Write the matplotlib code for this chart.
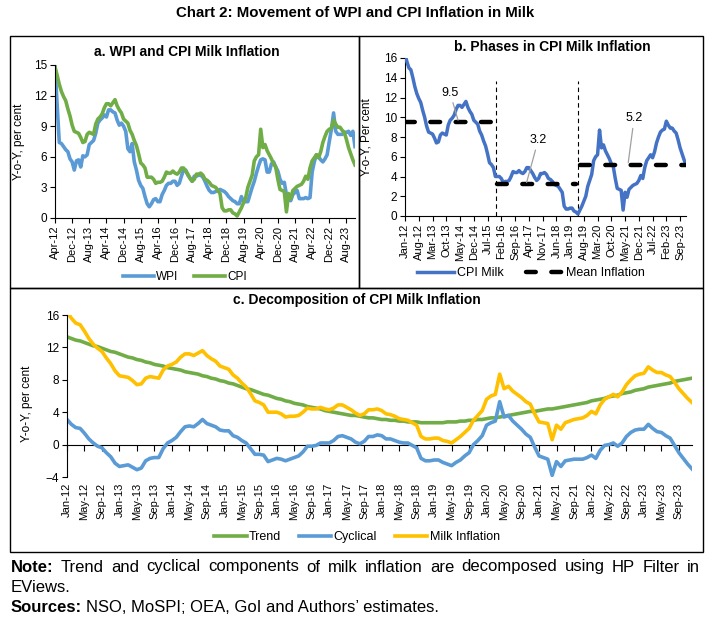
import numpy as np
import pandas as pd
import matplotlib
matplotlib.use('Agg')
import matplotlib.pyplot as plt
from matplotlib.patches import Rectangle

plt.rcParams['font.family'] = ['Liberation Sans', 'DejaVu Sans']

# monthly axis Jan-12 .. Dec-23
months = pd.date_range('2012-01-01', periods=144, freq='MS')
month_labels = [d.strftime('%b-%y') for d in months]

# CPI milk inflation (y-o-y, %), Jan-12 .. Dec-23
cpi_milk = [16.4, 15.6, 15.0, 14.8, 14.0, 13.1, 12.4, 11.9, 11.5, 10.7, 10.0, 9.1,
            8.5, 8.4, 8.3, 7.9, 7.4, 7.5, 8.2, 8.4, 8.3, 8.2, 9.2, 9.7,
            9.9, 10.2, 10.8, 11.2, 11.2, 11.0, 11.3, 11.6, 11.0, 10.6, 10.3, 9.7,
            9.5, 9.3, 8.6, 8.2, 7.6, 7.1, 6.3, 5.4, 5.2, 4.9, 4.0, 4.0,
            4.0, 3.8, 3.4, 3.5, 3.5, 3.6, 4.0, 4.5, 4.4, 4.4, 4.6, 4.4,
            4.3, 4.5, 4.9, 4.9, 4.6, 4.3, 3.9, 3.6, 3.8, 4.3, 4.3, 4.4,
            4.2, 3.8, 3.7, 3.5, 3.2, 3.1, 3.0, 2.7, 2.4, 1.0, 0.7, 0.7,
            0.8, 0.8, 0.5, 0.4, 0.2, 0.6, 1.0, 1.5, 2.0, 3.0, 3.6, 4.2,
            5.6, 6.0, 6.2, 8.7, 6.9, 7.2, 6.6, 6.2, 5.8, 5.3, 5.0, 3.8,
            2.8, 2.7, 2.6, 0.6, 2.4, 1.9, 2.7, 2.9, 3.1, 3.2, 3.3, 3.6,
            4.1, 3.8, 4.9, 5.6, 5.9, 6.2, 5.9, 6.5, 7.4, 8.0, 8.5, 8.7,
            8.8, 9.6, 9.2, 8.9, 8.9, 8.6, 8.4, 7.7, 6.9, 6.3, 5.7, 5.2]

# HP filter trend, Jan-12 .. Dec-23
trend = [13.3, 13.1, 12.9, 12.8, 12.6, 12.4, 12.2, 12.1, 11.9, 11.7, 11.5, 11.4,
         11.2, 11.0, 10.8, 10.7, 10.5, 10.4, 10.2, 10.1, 9.9, 9.8, 9.7, 9.5,
         9.4, 9.3, 9.2, 9.0, 8.9, 8.8, 8.7, 8.5, 8.4, 8.2, 8.1, 7.9,
         7.8, 7.6, 7.5, 7.3, 7.1, 6.9, 6.8, 6.6, 6.4, 6.2, 6.1, 5.9,
         5.7, 5.6, 5.4, 5.3, 5.1, 5.0, 4.9, 4.7, 4.6, 4.5, 4.4, 4.2,
         4.1, 4.0, 3.9, 3.8, 3.7, 3.6, 3.6, 3.5, 3.4, 3.3, 3.3, 3.2,
         3.1, 3.1, 3.0, 3.0, 2.9, 2.9, 2.8, 2.8, 2.8, 2.7, 2.7, 2.7,
         2.7, 2.7, 2.7, 2.8, 2.8, 2.8, 2.9, 2.9, 3.0, 3.0, 3.1, 3.1,
         3.2, 3.3, 3.3, 3.4, 3.5, 3.6, 3.7, 3.8, 3.9, 4.0, 4.1, 4.1,
         4.2, 4.3, 4.4, 4.4, 4.5, 4.6, 4.7, 4.8, 4.9, 5.0, 5.1, 5.2,
         5.4, 5.5, 5.6, 5.7, 5.9, 6.0, 6.1, 6.3, 6.4, 6.5, 6.7, 6.8,
         6.9, 7.1, 7.2, 7.3, 7.4, 7.5, 7.6, 7.8, 7.9, 8.0, 8.1, 8.2]

# cyclical component, Jan-12 .. Dec-23
cyclical = [3.1, 2.5, 2.1, 2.0, 1.4, 0.7, 0.2, -0.2, -0.4, -1.0, -1.5, -2.3,
            -2.7, -2.6, -2.5, -2.8, -3.1, -2.9, -2.0, -1.7, -1.6, -1.6, -0.5, 0.2,
            0.5, 0.9, 1.6, 2.2, 2.3, 2.2, 2.6, 3.1, 2.6, 2.4, 2.2, 1.8,
            1.7, 1.7, 1.1, 0.9, 0.5, 0.2, -0.5, -1.2, -1.2, -1.3, -2.1, -1.9,
            -1.7, -1.8, -2.0, -1.8, -1.6, -1.4, -0.9, -0.2, -0.2, -0.1, 0.2, 0.2,
            0.2, 0.5, 1.0, 1.1, 0.9, 0.7, 0.3, 0.1, 0.4, 1.0, 1.0, 1.2,
            1.1, 0.7, 0.7, 0.5, 0.3, 0.2, 0.2, -0.1, -0.4, -1.7, -2.0, -2.0,
            -1.9, -1.9, -2.2, -2.4, -2.6, -2.2, -1.9, -1.4, -1.0, 0.0, 0.5, 1.1,
            2.4, 2.7, 2.9, 5.3, 3.4, 3.6, 2.9, 2.4, 1.9, 1.3, 0.9, -0.3,
            -1.4, -1.6, -1.8, -3.8, -2.1, -2.7, -2.0, -1.9, -1.8, -1.8, -1.8, -1.6,
            -1.3, -1.7, -0.7, -0.1, 0.0, 0.2, -0.2, 0.2, 1.0, 1.5, 1.8, 1.9,
            1.9, 2.5, 2.0, 1.6, 1.5, 1.1, 0.8, -0.1, -1.0, -1.7, -2.4, -3.0]

# WPI milk inflation, Apr-12 .. Dec-23
wpi_milk = [14.8, 11.1, 7.4, 7.3, 7.0, 6.7, 6.5, 5.8, 5.5, 4.7, 5.6, 5.7,
            5.0, 6.1, 6.0, 6.2, 7.2, 7.4, 7.6, 8.3, 9.3, 9.6, 9.8, 10.1,
            9.9, 10.6, 10.6, 10.4, 10.3, 9.6, 9.1, 9.3, 9.0, 8.5, 6.8, 6.5,
            7.3, 5.5, 4.7, 3.7, 3.2, 2.9, 2.1, 1.4, 1.1, 1.4, 1.8, 1.9,
            1.6, 1.6, 2.3, 2.7, 3.2, 3.4, 3.4, 3.6, 3.6, 3.2, 3.4, 4.1,
            4.7, 4.7, 4.2, 3.9, 3.6, 4.1, 4.1, 4.2, 4.2, 4.0, 3.6, 3.1,
            2.7, 2.5, 2.5, 2.6, 2.7, 2.8, 2.7, 2.6, 2.4, 2.1, 1.9, 1.7,
            1.6, 1.4, 1.4, 2.1, 1.6, 1.6, 1.6, 2.3, 3.0, 3.6, 4.4, 5.1,
            5.7, 5.8, 5.7, 4.5, 4.5, 5.3, 5.5, 5.0, 4.6, 3.8, 3.4, 3.5,
            2.3, 1.8, 1.7, 2.3, 2.5, 2.7, 1.9, 1.9, 1.9, 2.0, 1.9, 2.0,
            4.5, 5.5, 6.2, 6.0, 5.7, 5.5, 5.8, 6.2, 7.5, 8.7, 10.3, 8.5,
            8.2, 8.2, 8.2, 8.4, 8.4, 8.5, 8.1, 8.5, 7.0]

# phases of CPI milk inflation (month index ranges) and their means
phase_start = [0, 47, 89]
phase_end = [44, 87, 143]
phase_mean = [9.5, 3.2, 5.2]
phase_break = [46.3, 88.2]

m = np.arange(len(cpi_milk))
wpi_start = 3

c_wpi = '#5B9BD5'
c_cpi = '#70AD47'
c_milk_b = '#4472C4'
c_gold = '#FFC000'

W, H = 710, 620
fig = plt.figure(figsize=(W / 100, H / 100), dpi=100)


def box(l, t, r, b):
    return [l / W, 1 - b / H, (r - l) / W, (b - t) / H]


def style(ax):
    for s in ['top', 'right']:
        ax.spines[s].set_visible(False)
    for s in ['left', 'bottom']:
        ax.spines[s].set_linewidth(0.8)
    ax.tick_params(direction='out', length=3.5, width=0.8, labelsize=8, pad=2)
    ax.tick_params(axis='y', labelsize=8.5)
    ax.tick_params(axis='x', labelrotation=90)


# panel frames
for l, t, r, b in [(10, 36, 359, 288), (359, 36, 703, 288), (10, 288, 703, 552)]:
    fig.patches.append(Rectangle((l / W, 1 - b / H), (r - l) / W, (b - t) / H,
                                 transform=fig.transFigure, fill=False,
                                 edgecolor='black', lw=1.0))

fig.text(0.5, 1 - 13 / H, 'Chart 2: Movement of WPI and CPI Inflation in Milk',
         ha='center', va='center', fontsize=10.8, fontweight='bold')

# ---- panel a
axA = fig.add_axes(box(55, 65, 355, 218))
style(axA)
axA.plot(m[wpi_start:], wpi_milk, color=c_wpi, lw=2.6, label='WPI')
axA.plot(m[wpi_start:], cpi_milk[wpi_start:], color=c_cpi, lw=2.6, label='CPI')
axA.set_xlim(wpi_start, 143)
axA.set_ylim(0, 15)
axA.set_yticks(np.arange(0, 16, 3))
ta = np.arange(wpi_start, 144, 8)
axA.set_xticks(ta)
axA.set_xticklabels([month_labels[i] for i in ta])
axA.set_ylabel('Y-o-Y, per cent', fontsize=8.5)
axA.yaxis.set_label_coords(-0.1, 0.5)
fig.text(187 / W, 1 - 52 / H, 'a. WPI and CPI Milk Inflation', ha='center',
         va='center', fontsize=10, fontweight='bold')
axA.legend(loc='center', bbox_to_anchor=(185 / W, 1 - 277 / H),
           bbox_transform=fig.transFigure, ncol=2, frameon=False, fontsize=8.5,
           handlelength=2.6, handletextpad=0.2, columnspacing=1.3)

# ---- panel b
axB = fig.add_axes(box(405, 58, 686, 216))
style(axB)
axB.plot(m, cpi_milk, color=c_milk_b, lw=2.5, label='CPI Milk', zorder=3)
for s, e, v in zip(phase_start, phase_end, phase_mean):
    axB.plot([s, e], [v, v], color='black', lw=3.2, dashes=(2.2, 3.5),
             dash_capstyle='round', zorder=4,
             label='Mean Inflation' if s == 0 else None)
for x in phase_break:
    axB.plot([x, x], [0, 13.7], color='black', lw=0.8, ls=(0, (4, 3)), zorder=2)
axB.set_xlim(0, 143)
axB.set_ylim(0, 16)
axB.set_yticks(np.arange(0, 17, 2))
tb = np.arange(0, 144, 7)
axB.set_xticks(tb)
axB.set_xticklabels([month_labels[i] for i in tb])
axB.set_ylabel('Y-o-Y, Per cent', fontsize=8.5)
axB.yaxis.set_label_coords(-0.115, 0.5)
fig.text(552 / W, 1 - 47 / H, 'b. Phases in CPI Milk Inflation', ha='center',
         va='center', fontsize=10, fontweight='bold')
ann = [(9.5, 22.9, 12.5, 27.0, 9.7), (3.2, 67.8, 7.7, 61.9, 3.4),
       (5.2, 116.6, 9.9, 113.6, 5.4)]
for v, tx, ty, px, py in ann:
    axB.annotate(f'{v}', xy=(px, py), xytext=(tx, ty), ha='center', va='center',
                 fontsize=9, arrowprops=dict(arrowstyle='-', color='#A0A0A0',
                                             lw=0.9, shrinkA=1, shrinkB=0),
                 zorder=5)
axB.legend(loc='center', bbox_to_anchor=(531 / W, 1 - 273 / H),
           bbox_transform=fig.transFigure, ncol=2, frameon=False, fontsize=9,
           handlelength=3.0, handletextpad=0.2, columnspacing=1.8)

# ---- panel c
axC = fig.add_axes(box(67, 315, 692, 477))
style(axC)
axC.spines['bottom'].set_visible(False)
axC.plot(m, trend, color=c_cpi, lw=2.6, label='Trend')
axC.plot(m, cyclical, color=c_wpi, lw=2.6, label='Cyclical')
axC.plot(m, cpi_milk, color=c_gold, lw=2.6, label='Milk Inflation')
axC.set_xlim(0, 143)
axC.set_ylim(-4, 16)
axC.set_yticks(np.arange(-4, 17, 4))
tc = np.arange(0, 144, 4)
axC.set_xticks(tc)
axC.set_xticklabels([month_labels[i] for i in tc])
axC.tick_params(axis='x', length=0, pad=4)
zero_ax = axC.secondary_xaxis(0, transform=axC.transData)
zero_ax.set_xticks(tc)
zero_ax.tick_params(axis='x', direction='out', length=4, width=0.8,
                    labelbottom=False)
zero_ax.spines['bottom'].set_linewidth(0.8)
axC.set_ylabel('Y-o-Y, per cent', fontsize=8.5)
axC.yaxis.set_label_coords(-0.055, 0.45)
fig.text(357 / W, 1 - 300 / H, 'c. Decomposition of CPI Milk Inflation',
         ha='center', va='center', fontsize=10, fontweight='bold')
axC.legend(loc='center', bbox_to_anchor=(357 / W, 1 - 537 / H),
           bbox_transform=fig.transFigure, ncol=3, frameon=False, fontsize=9,
           handlelength=2.6, handletextpad=0.2, columnspacing=1.4)

# ---- note and sources (first line justified)
fig.canvas.draw()
rend = fig.canvas.get_renderer()
note_fs = 12
left_px, right_px = 11, 700
words = ('Trend and cyclical components of milk inflation are decomposed '
         'using HP Filter in').split()
pieces = [fig.text(0, 1 - 567 / H, 'Note:', fontsize=note_fs, fontweight='bold',
                   va='center')]
pieces += [fig.text(0, 1 - 567 / H, w, fontsize=note_fs, va='center') for w in words]
widths = [p.get_window_extent(rend).width for p in pieces]
gap = (right_px - left_px - sum(widths)) / (len(pieces) - 1)
x = left_px
for p, w in zip(pieces, widths):
    p.set_x(x / W)
    x += w + gap
fig.text(left_px / W, 1 - 587 / H, 'EViews.', fontsize=note_fs, va='center')
src = fig.text(left_px / W, 1 - 607 / H, 'Sources:', fontsize=note_fs,
               fontweight='bold', va='center')
sw = src.get_window_extent(rend).width
fig.text((left_px + sw + 4) / W, 1 - 607 / H,
         'NSO, MoSPI; OEA, GoI and Authors\u2019 estimates.', fontsize=note_fs,
         va='center')

fig.savefig('out.png', dpi=100)
